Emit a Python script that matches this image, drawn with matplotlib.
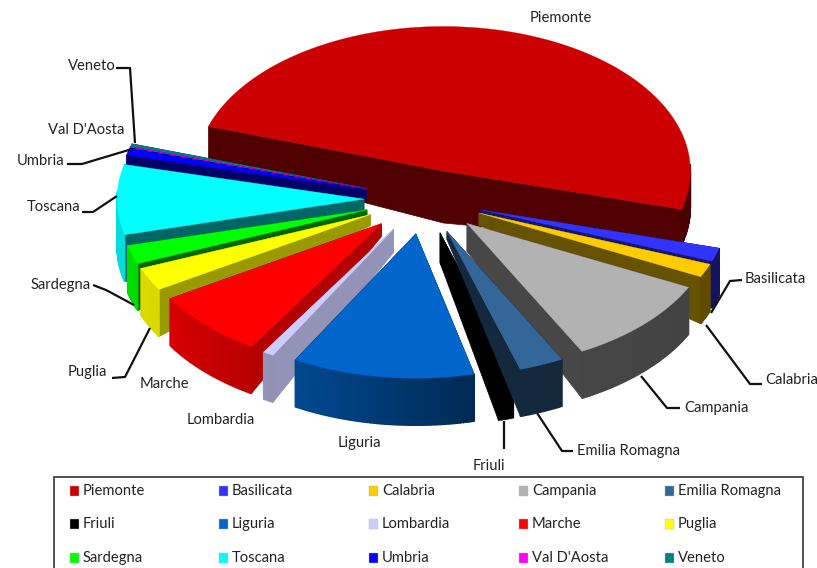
import numpy as np
import matplotlib
matplotlib.use('Agg')
import matplotlib.pyplot as plt
from matplotlib.colors import to_rgb
from matplotlib.patches import Rectangle

plt.rcParams['font.family'] = ['Lato', 'DejaVu Sans']

regions = ['Piemonte', 'Basilicata', 'Calabria', 'Campania', 'Emilia Romagna',
           'Friuli', 'Liguria', 'Lombardia', 'Marche', 'Puglia',
           'Sardegna', 'Toscana', 'Umbria', "Val D'Aosta", 'Veneto']
values = [49.2, 1.5, 1.5, 10.0, 2.9, 1.0, 11.9, 0.7, 7.5, 2.6, 2.1, 7.8, 0.8, 0.05, 0.3]
colors = ['#CC0000', '#3333FF', '#FFCC00', '#B2B2B2', '#336699',
          '#000000', '#0066CC', '#CCCCFF', '#FF0000', '#FFFF00',
          '#00FF00', '#00FFFF', '#0000FF', '#FF00FF', '#008080']

# look of the fake 3d pie, all in pixels
CX, CY = 424, 199
R = 247
SQUASH = 0.585
START = -72
explode = [50] + [60] * 14
nudge_x = [5] + [0] * 14
draw_order = [0, 14, 13, 12, 11, 10, 9, 8, 7, 1, 2, 3, 5, 4, 6]
rim_depth = [36, 47, 47, 47, 47, 47, 47, 47, 47, 47, 47, 47, 47, 47, 47]
apex_depth = [52, 14, 12, 28, 8, 30, 30, 23, 13, 11, 5, 12, 10, 8, 8]
side_shade = [0.39, 0.42, 0.40, 0.40, 0.40, 1, 0.42, 0.72, 0.70, 0.60, 0.40, 0.40, 0.40, 0.4, 0.4]


def shade(color, f):
    return tuple(c * f for c in to_rgb(color))


def outer_shade(theta):
    return np.interp(theta, [90, 165, 210, 240, 290], [0.36, 0.40, 0.72, 0.85, 0.88])


def to_xy(theta, r, ox, oy):
    t = np.radians(theta)
    return ox + r * np.sin(t), oy - r * np.cos(t) * SQUASH


fig = plt.figure(figsize=(8.17, 5.68), dpi=100)
ax = fig.add_axes([0, 0, 1, 1])
ax.set_xlim(0, 817)
ax.set_ylim(568, 0)
ax.axis('off')

angles = np.cumsum([0] + values) / sum(values) * 360 + START

for i in draw_order:
    a0, a1 = angles[i], angles[i + 1]
    mid = (a0 + a1) / 2
    ox, oy = to_xy(mid, explode[i], CX + nudge_x[i], CY)
    th = np.linspace(a0, a1, max(int((a1 - a0) * 1.5), 2) + 1)
    rx, ry = to_xy(th, R, ox, oy)
    d_apex, d_rim = apex_depth[i], rim_depth[i]
    side = shade(colors[i], side_shade[i])

    # straight side walls, the one further back first
    edges = sorted([(rx[0], ry[0]), (rx[-1], ry[-1])], key=lambda p: p[1])
    for (ex, ey) in edges:
        ax.fill([ox, ex, ex, ox], [oy, ey, ey + d_rim, oy + d_apex],
                color=side, lw=0.5, zorder=2)
    # curved wall, only what faces the viewer
    for k in range(len(th) - 1):
        m = (th[k] + th[k + 1]) / 2
        if np.cos(np.radians(m)) < 0.05:
            ax.fill([rx[k], rx[k + 1], rx[k + 1], rx[k]],
                    [ry[k], ry[k + 1], ry[k + 1] + d_rim, ry[k] + d_rim],
                    color=shade(colors[i], outer_shade(m)), lw=1.0, zorder=2)
    ax.fill(np.r_[ox, rx], np.r_[oy, ry], color=colors[i], lw=0.2, zorder=2)

# leader lines and labels
label_pos = [(530, 18), (745, 279), (765, 380), (684, 408), (577, 451),
             (473, 466), (338, 443), (187, 420), (140, 384), (68, 372),
             (31, 285), (27, 207), (17, 161), (48, 130), (68, 66)]
leaders = {
    1: [(742, 280), (730, 281), (711, 313)],
    2: [(762, 384), (750, 384), (706, 325)],
    3: [(680, 408), (667, 408), (641, 376)],
    4: [(573, 451), (562, 451), (537, 413)],
    5: [(504, 449), (504, 421)],
    9: [(112, 378), (125, 377), (150, 328)],
    10: [(93, 285), (106, 290), (134, 305)],
    11: [(82, 212), (93, 212), (117, 196)],
    12: [(67, 164), (82, 164), (132, 149)],
    14: [(116, 68), (130, 68), (135, 143)],
}
for i, pts in leaders.items():
    ax.plot([p[0] for p in pts], [p[1] for p in pts], color='#111111', lw=1.6, zorder=3,
            solid_capstyle='butt')
for name, (lx, ly) in zip(regions, label_pos):
    ax.text(lx, ly, name, fontsize=10.6, color='#222222', ha='left', va='center', zorder=4)

# legend box, cut by the lower edge like the original
ax.add_patch(Rectangle((54, 477), 749, 100, fc='white', ec='#333333', lw=1.2, zorder=5))
col_x = [70, 219, 369, 519, 665]
row_y = [491, 524, 558]
for i, name in enumerate(regions):
    x = col_x[i % 5]
    y = row_y[i // 5]
    ax.add_patch(Rectangle((x, y - 5), 9, 10, fc=colors[i], ec='#BBBBBB', lw=0.3, zorder=6))
    ax.text(x + 13, y, name, fontsize=10.6, color='#222222', ha='left', va='center', zorder=6)

fig.savefig('out.png', dpi=100)
